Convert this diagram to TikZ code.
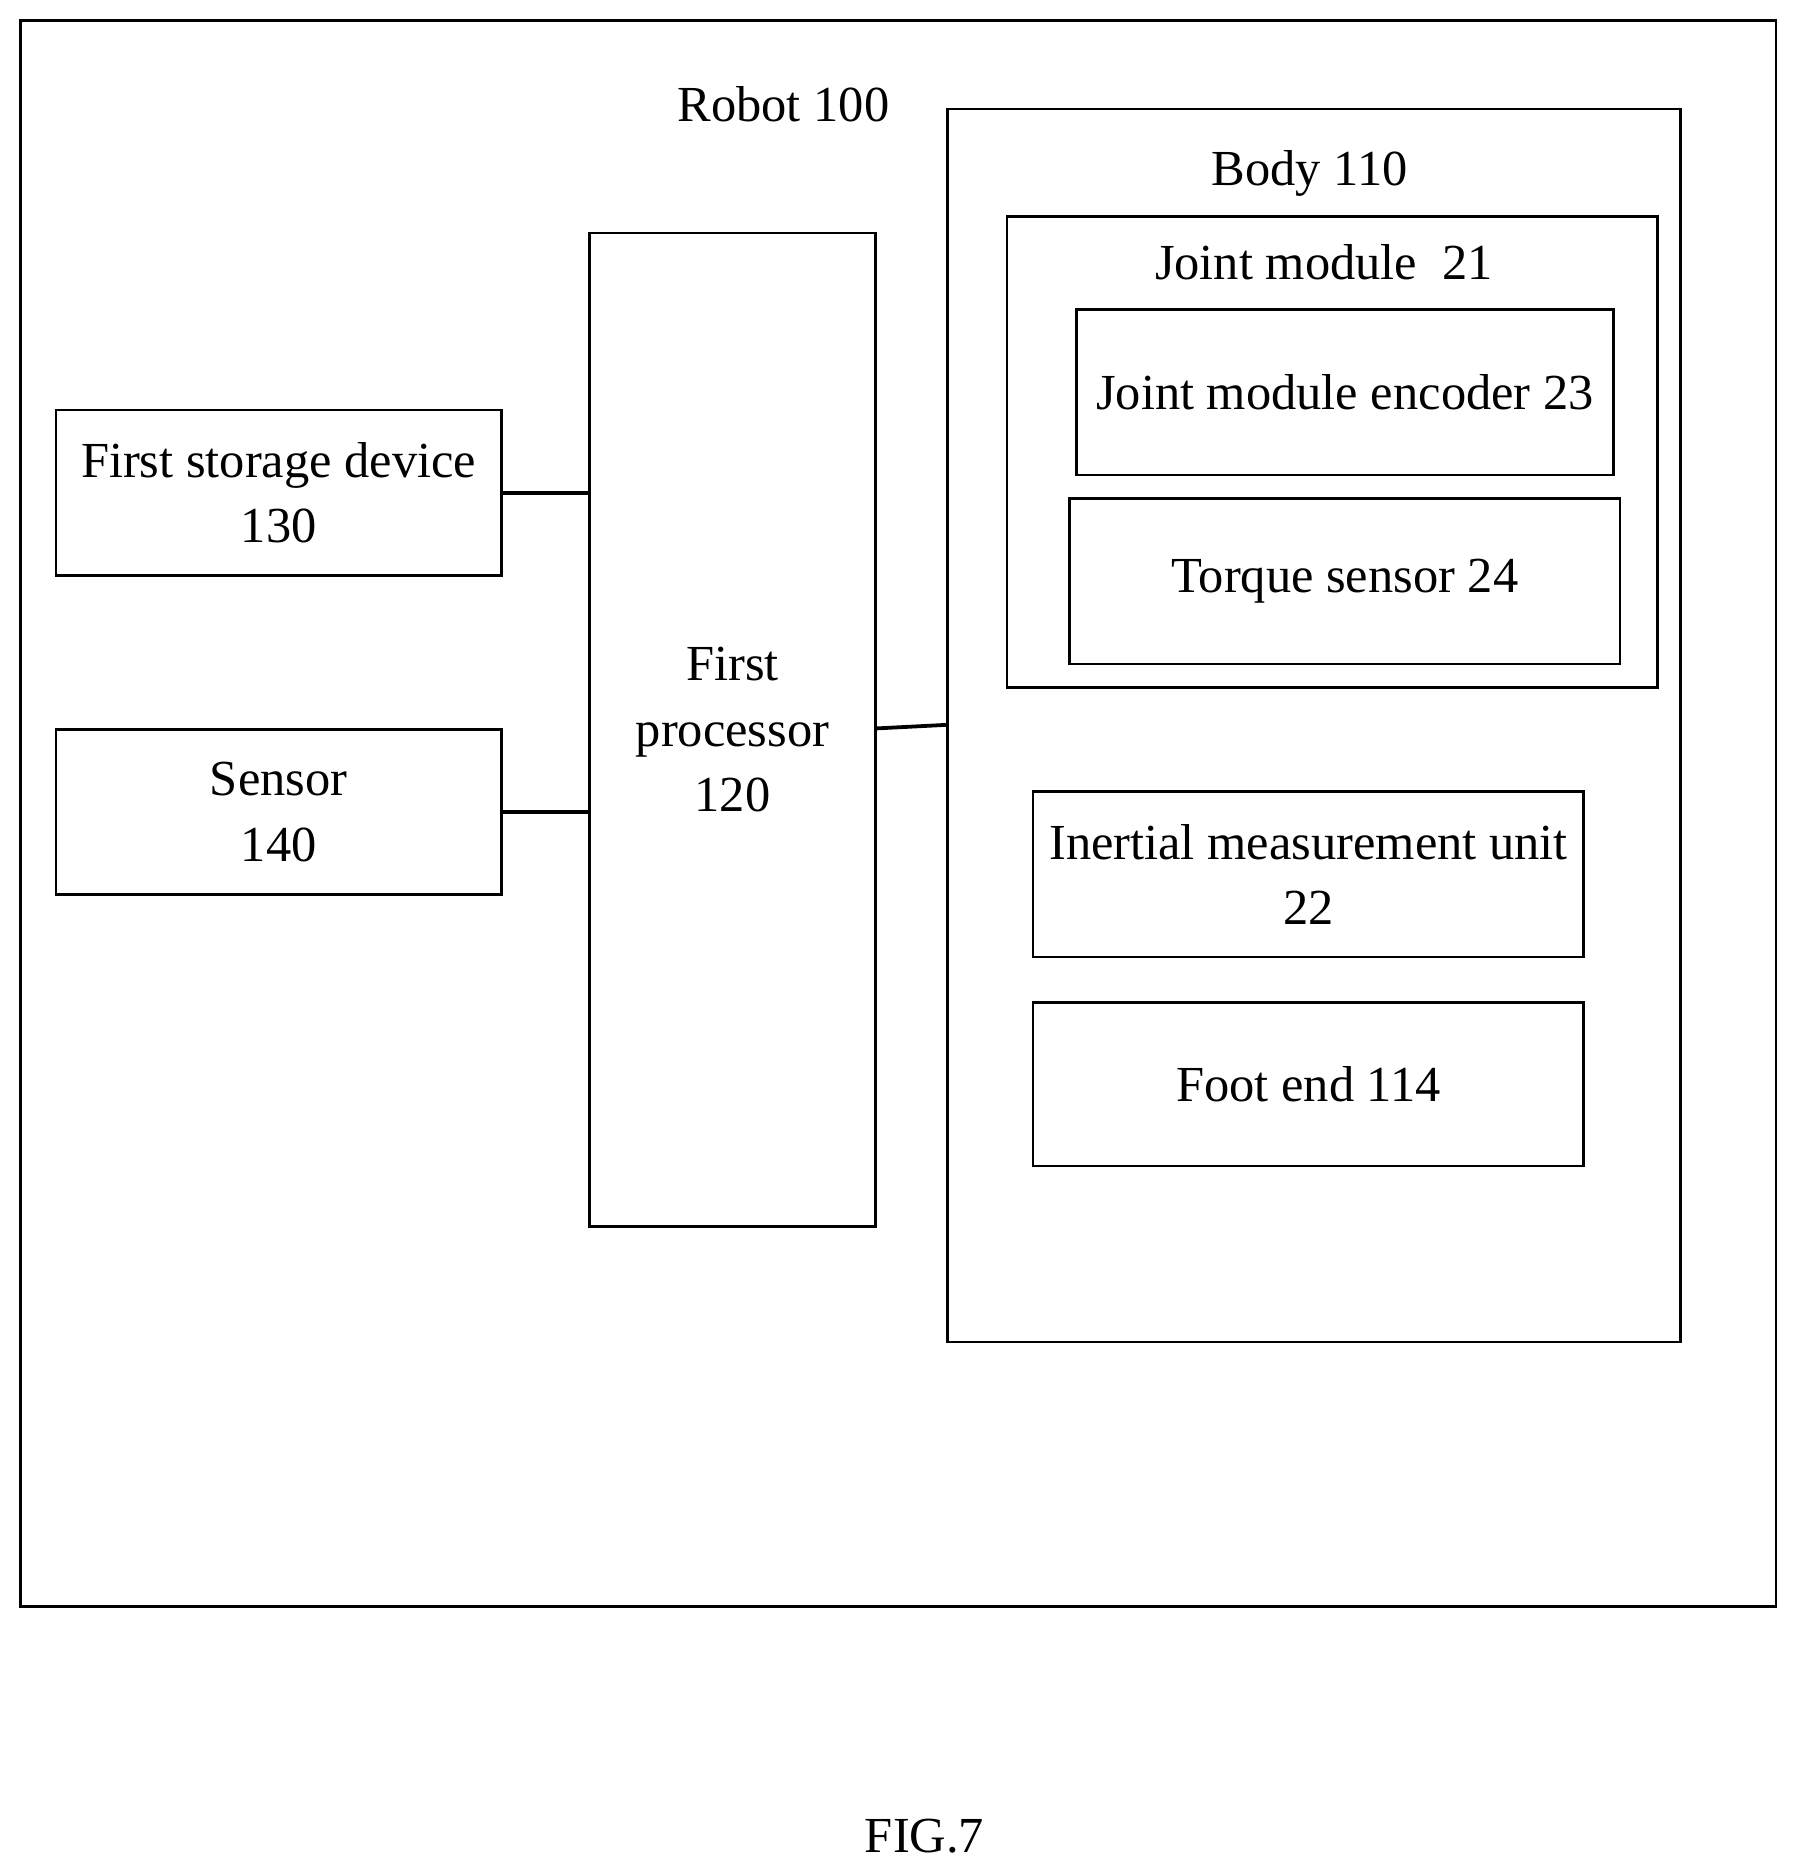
\documentclass[tikz,border=0pt]{standalone}
\usepackage{fontspec}
\setmainfont{Liberation Serif}
\begin{document}
\begin{tikzpicture}[x=0.01cm,y=-0.01cm,
  box/.style={draw,line width=0.6pt,inner sep=0pt},
  lbl/.style={font=\fontsize{12pt}{15.5pt}\selectfont,align=center,inner sep=0pt},
  conn/.style={line width=0.9pt}]
\useasboundingbox (0,0) rectangle (1500,1566);
\draw[line width=0.6pt] (17,17) rectangle (1485,1343);
\node[lbl] (robot) at (655,87) {Robot 100};
\draw[line width=0.6pt] (792,91) rectangle (1405,1122);
\coordinate (bodyleft) at (792,606);
\node[lbl] (body) at (1095,145) {Body 110};
\draw[line width=0.6pt] (842,181) rectangle (1386,575);
\node[lbl] (joint) at (1107,219) {Joint module\ \ 21};
\node[box,lbl,minimum width=4.49cm,minimum height=1.38cm] (enc) at (1124.5,328) {Joint module encoder 23};
\node[box,lbl,minimum width=4.6cm,minimum height=1.38cm] (torque) at (1124.5,486) {};
\node[lbl] at (torque) {Torque sensor 24};
\node[box,lbl,minimum width=4.6cm,minimum height=1.38cm] (imu) at (1094,731) {};
\node[lbl] at (imu) {Inertial measurement unit\\22};
\node[box,lbl,minimum width=4.6cm,minimum height=1.37cm] (foot) at (1094,906.5) {Foot end 114};
\node[box,lbl,minimum width=2.39cm,minimum height=8.3cm] (proc) at (612.5,610) {First\\processor\\120};
\node[box,lbl,minimum width=3.72cm,minimum height=1.38cm] (stor) at (233,412) {First storage device\\130};
\node[box,lbl,minimum width=3.72cm,minimum height=1.38cm] (sens) at (233,679) {Sensor\\140};
\draw[conn] (stor.east) -- (stor.east -| proc.west);
\draw[conn] (sens.east) -- (sens.east -| proc.west);
\draw[conn] (proc.east |- 0,609) -- (bodyleft);
\node[lbl] (fig) at (773,1535) {FIG.7};
\end{tikzpicture}
\end{document}
